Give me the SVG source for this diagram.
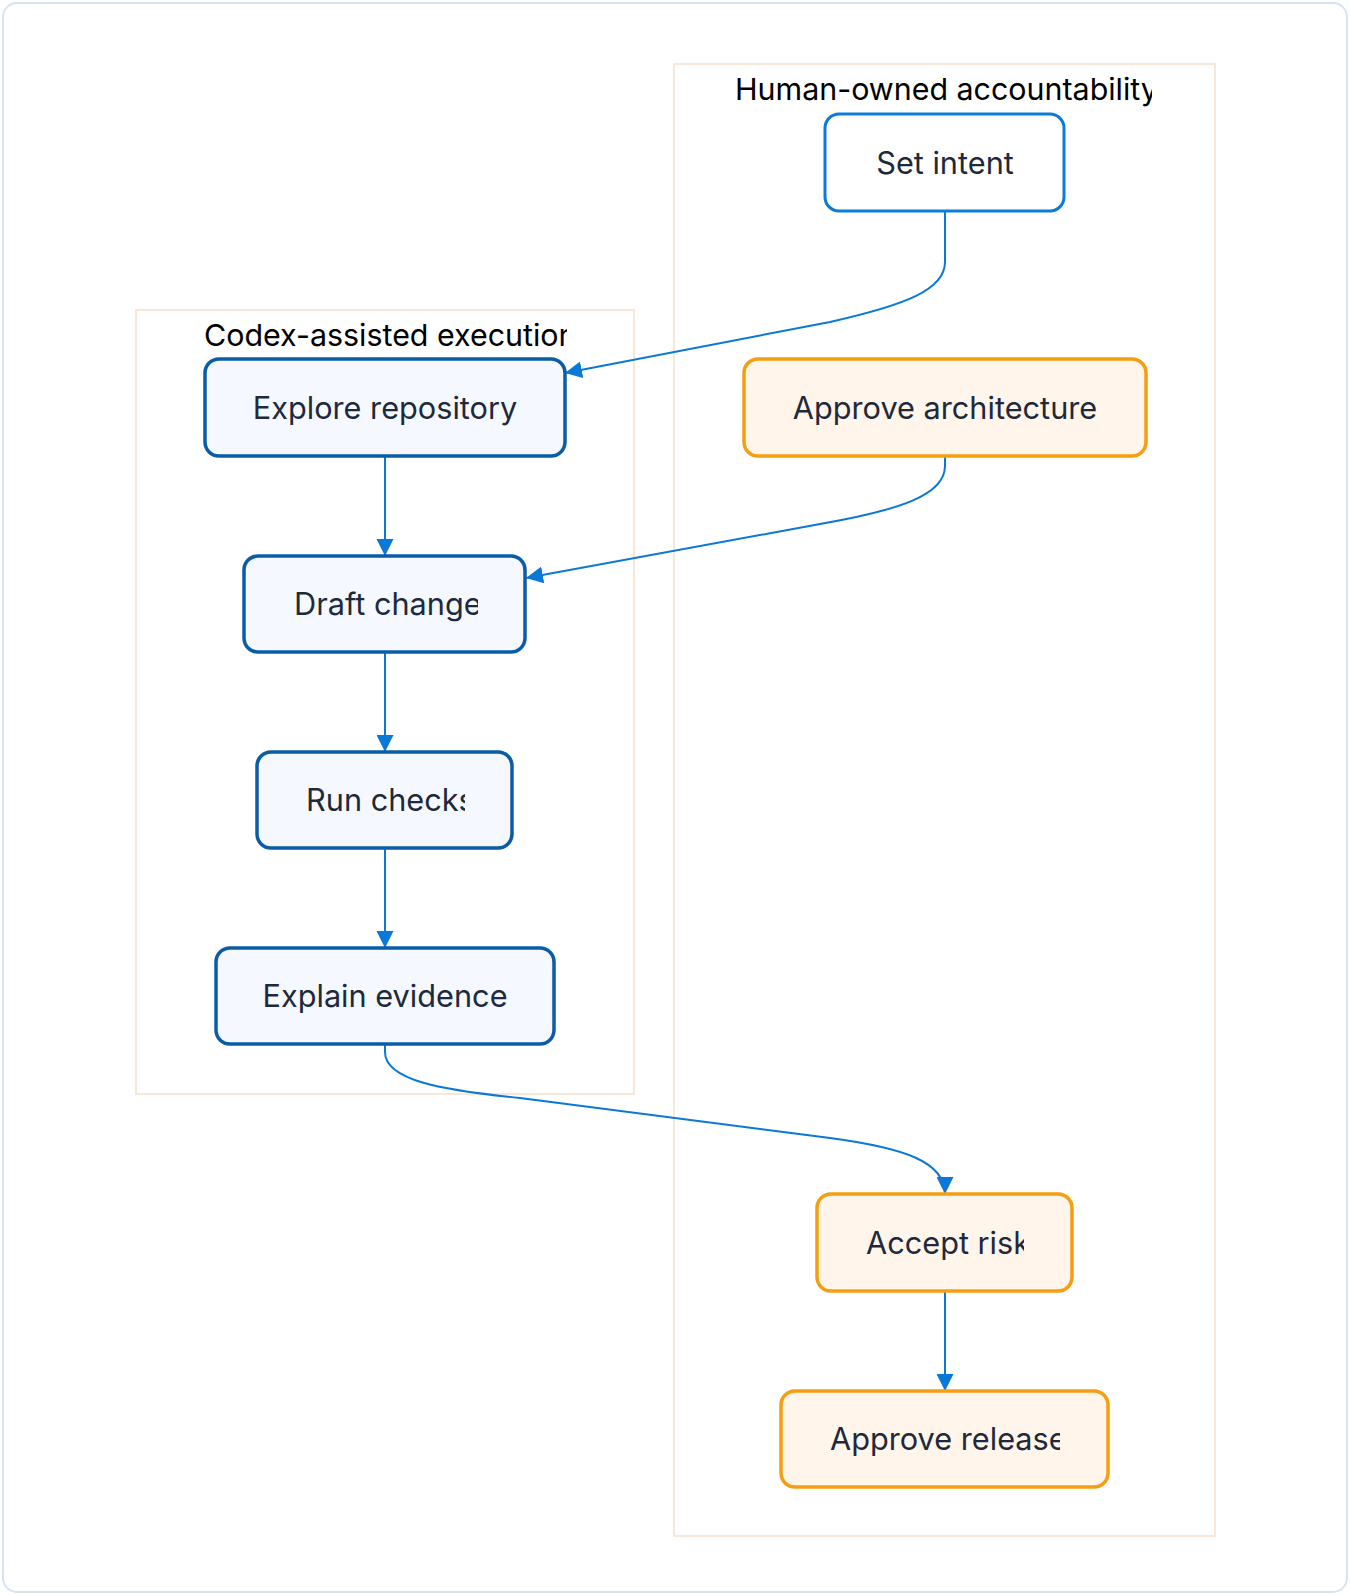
<svg xmlns="http://www.w3.org/2000/svg" width="1350" height="1595" viewBox="0 0 1350 1595">
<style>
.frame{fill:#ffffff;stroke:#d5e3f4;stroke-width:2}
.cluster{fill:none;stroke:#f8e7d6;stroke-width:2}
.clabel{font-family:Inter,"Noto Sans","DejaVu Sans",sans-serif;font-size:30.4px;fill:#000000}
.label{font-family:Inter,"Noto Sans","DejaVu Sans",sans-serif;font-size:30.7px;fill:#1e293b}
.human{fill:#ffffff;stroke:#0b7bd6;stroke-width:3}
.codex{fill:#f5f9ff;stroke:#0a5ca6;stroke-width:3.5}
.gate{fill:#fff5eb;stroke:#f59e12;stroke-width:3.5}
.edge{fill:none;stroke:#0a78d6;stroke-width:2}
</style>
<defs>
<marker id="arrow" viewBox="0 0 17 17" refX="17" refY="8.5" markerWidth="17" markerHeight="17" markerUnits="userSpaceOnUse" orient="auto">
<path d="M0,0 L17,8.5 L0,17 z" fill="#0a78d6"/>
</marker>
<clipPath id="clipHuman"><rect x="735" y="64" width="417" height="50"/></clipPath>
<clipPath id="clipCodex"><rect x="204" y="312" width="363" height="46"/></clipPath>
<clipPath id="clipDraft"><rect x="294" y="570" width="184" height="60"/></clipPath>
<clipPath id="clipRun"><rect x="306" y="766" width="159" height="60"/></clipPath>
<clipPath id="clipAccept"><rect x="866" y="1208" width="158" height="60"/></clipPath>
<clipPath id="clipRelease"><rect x="830" y="1405" width="230" height="60"/></clipPath>
</defs>
<rect class="frame" x="3" y="3" width="1344" height="1589" rx="14"/>
<g id="cluster-human">
<rect class="cluster" x="674" y="64" width="541" height="1472"/>
<text class="clabel" x="735" y="100" clip-path="url(#clipHuman)">Human-owned accountability</text>
</g>
<g id="cluster-codex">
<rect class="cluster" x="136" y="310" width="498" height="784"/>
<text class="clabel" x="204" y="346" clip-path="url(#clipCodex)">Codex-assisted execution</text>
</g>
<g id="connectors">
<path class="edge" d="M945,211 V262 C945,290 905,305 830,322 L565,373" marker-end="url(#arrow)"/>
<path class="edge" d="M945,456 V466 C945,495 900,510 820,524 L526,578" marker-end="url(#arrow)"/>
<path class="edge" d="M385,456 V556" marker-end="url(#arrow)"/>
<path class="edge" d="M385,652 V752" marker-end="url(#arrow)"/>
<path class="edge" d="M385,848 V948" marker-end="url(#arrow)"/>
<path class="edge" d="M385,1044 V1052 C385,1080 440,1090 520,1098 L830,1138 C905,1148 945,1162 945,1194" marker-end="url(#arrow)"/>
<path class="edge" d="M945,1291 V1391" marker-end="url(#arrow)"/>
</g>
<g id="node-set-intent">
<rect class="human" x="825" y="114" width="239" height="97" rx="14"/>
<text class="label" x="945" y="174" text-anchor="middle">Set intent</text>
</g>
<g id="node-approve-architecture">
<rect class="gate" x="744" y="359" width="402" height="97" rx="14"/>
<text class="label" x="945" y="419" text-anchor="middle">Approve architecture</text>
</g>
<g id="node-explore-repository">
<rect class="codex" x="205" y="359" width="360" height="97" rx="14"/>
<text class="label" x="385" y="419" text-anchor="middle">Explore repository</text>
</g>
<g id="node-draft-change">
<rect class="codex" x="244" y="556" width="281" height="96" rx="14"/>
<text class="label" x="294" y="615" clip-path="url(#clipDraft)">Draft change</text>
</g>
<g id="node-run-checks">
<rect class="codex" x="257" y="752" width="255" height="96" rx="14"/>
<text class="label" x="306" y="811" clip-path="url(#clipRun)">Run checks</text>
</g>
<g id="node-explain-evidence">
<rect class="codex" x="216" y="948" width="338" height="96" rx="14"/>
<text class="label" x="385" y="1007" text-anchor="middle">Explain evidence</text>
</g>
<g id="node-accept-risk">
<rect class="gate" x="817" y="1194" width="255" height="97" rx="14"/>
<text class="label" x="866" y="1254" clip-path="url(#clipAccept)">Accept risk</text>
</g>
<g id="node-approve-release">
<rect class="gate" x="781" y="1391" width="327" height="96" rx="14"/>
<text class="label" x="830" y="1450" clip-path="url(#clipRelease)">Approve release</text>
</g>
</svg>
